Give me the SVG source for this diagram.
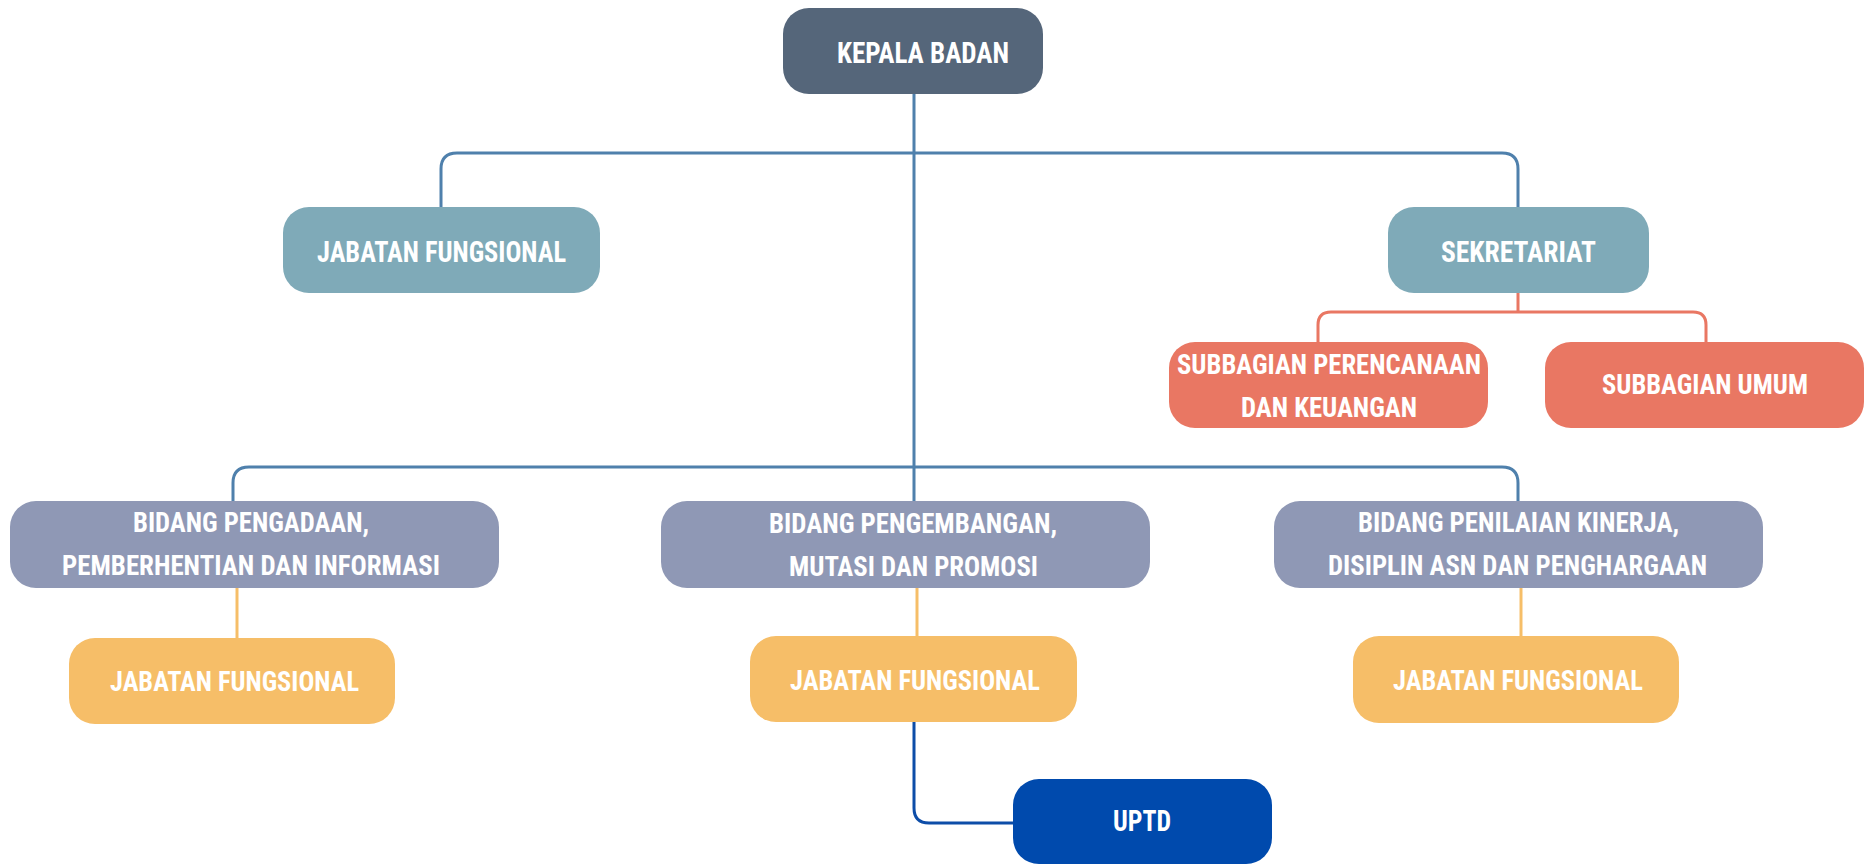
<svg xmlns="http://www.w3.org/2000/svg" width="1874" height="864" viewBox="0 0 1874 864">
<style>
  .t{font-family:"Liberation Sans Narrow","Roboto Condensed","DejaVu Sans Condensed","Liberation Sans",sans-serif;font-weight:bold;font-size:28px;fill:#ffffff}
  .big{font-size:30px}
  .c{fill:none;stroke-width:3;stroke-linecap:butt}
  .blue{stroke:#4F80AC}
  .red{stroke:#E97763}
  .yel{stroke:#F6BE68}
  .dk{stroke:#0D4DA8}
  .n-kb{fill:#55667A}
  .n-teal{fill:#7FAAB8}
  .n-red{fill:#E97763}
  .n-bid{fill:#8F98B5}
  .n-yel{fill:#F6BE68}
  .n-uptd{fill:#004AAD}
</style>
<rect width="1874" height="864" fill="#ffffff"/>
<g id="connectors">
  <path class="c blue" d="M914,94 V501"/>
  <path class="c blue" d="M441,207 V169 Q441,153 457,153 H1502 Q1518,153 1518,169 V207"/>
  <path class="c blue" d="M233,501 V483 Q233,467 249,467 H1502 Q1518,467 1518,483 V501"/>
  <path class="c red" d="M1518,293 V312"/>
  <path class="c red" d="M1318,342 V325 Q1318,312 1331,312 H1693 Q1706,312 1706,325 V342"/>
  <path class="c yel" d="M237,588 V638"/>
  <path class="c yel" d="M917,588 V636"/>
  <path class="c yel" d="M1521,588 V636"/>
  <path class="c dk" d="M914,722 V808 Q914,823 929,823 H1013"/>
</g>
<g id="kepala-badan">
  <rect class="n-kb" x="783" y="8" width="260" height="86" rx="26"/>
  <text class="t big" x="837" y="63" textLength="172" lengthAdjust="spacingAndGlyphs">KEPALA BADAN</text>
</g>
<g id="jf-top">
  <rect class="n-teal" x="283" y="207" width="317" height="86" rx="26"/>
  <text class="t big" x="317" y="262" textLength="249" lengthAdjust="spacingAndGlyphs">JABATAN FUNGSIONAL</text>
</g>
<g id="sekretariat">
  <rect class="n-teal" x="1388" y="207" width="261" height="86" rx="26"/>
  <text class="t big" x="1441" y="262" textLength="155" lengthAdjust="spacingAndGlyphs">SEKRETARIAT</text>
</g>
<g id="subbag-perencanaan">
  <rect class="n-red" x="1169" y="342" width="319" height="86" rx="26"/>
  <text class="t" x="1177" y="374" textLength="304" lengthAdjust="spacingAndGlyphs">SUBBAGIAN PERENCANAAN</text>
  <text class="t" x="1241" y="417" textLength="176" lengthAdjust="spacingAndGlyphs">DAN KEUANGAN</text>
</g>
<g id="subbag-umum">
  <rect class="n-red" x="1545" y="342" width="319" height="86" rx="26"/>
  <text class="t" x="1602" y="394" textLength="206" lengthAdjust="spacingAndGlyphs">SUBBAGIAN UMUM</text>
</g>
<g id="bidang-pengadaan">
  <rect class="n-bid" x="10" y="501" width="489" height="87" rx="26"/>
  <text class="t" x="133" y="532" textLength="236" lengthAdjust="spacingAndGlyphs">BIDANG PENGADAAN,</text>
  <text class="t" x="62" y="575" textLength="378" lengthAdjust="spacingAndGlyphs">PEMBERHENTIAN DAN INFORMASI</text>
</g>
<g id="bidang-pengembangan">
  <rect class="n-bid" x="661" y="501" width="489" height="87" rx="26"/>
  <text class="t" x="769" y="533" textLength="288" lengthAdjust="spacingAndGlyphs">BIDANG PENGEMBANGAN,</text>
  <text class="t" x="789" y="576" textLength="249" lengthAdjust="spacingAndGlyphs">MUTASI DAN PROMOSI</text>
</g>
<g id="bidang-penilaian">
  <rect class="n-bid" x="1274" y="501" width="489" height="87" rx="26"/>
  <text class="t" x="1358" y="532" textLength="321" lengthAdjust="spacingAndGlyphs">BIDANG PENILAIAN KINERJA,</text>
  <text class="t" x="1328" y="575" textLength="379" lengthAdjust="spacingAndGlyphs">DISIPLIN ASN DAN PENGHARGAAN</text>
</g>
<g id="jf-left">
  <rect class="n-yel" x="69" y="638" width="326" height="86" rx="26"/>
  <text class="t" x="110" y="691" textLength="249" lengthAdjust="spacingAndGlyphs">JABATAN FUNGSIONAL</text>
</g>
<g id="jf-mid">
  <rect class="n-yel" x="750" y="636" width="327" height="86" rx="26"/>
  <text class="t" x="790" y="690" textLength="250" lengthAdjust="spacingAndGlyphs">JABATAN FUNGSIONAL</text>
</g>
<g id="jf-right">
  <rect class="n-yel" x="1353" y="636" width="326" height="87" rx="26"/>
  <text class="t" x="1393" y="690" textLength="250" lengthAdjust="spacingAndGlyphs">JABATAN FUNGSIONAL</text>
</g>
<g id="uptd">
  <rect class="n-uptd" x="1013" y="779" width="259" height="85" rx="26"/>
  <text class="t big" x="1113" y="831" textLength="58" lengthAdjust="spacingAndGlyphs">UPTD</text>
</g>
</svg>
